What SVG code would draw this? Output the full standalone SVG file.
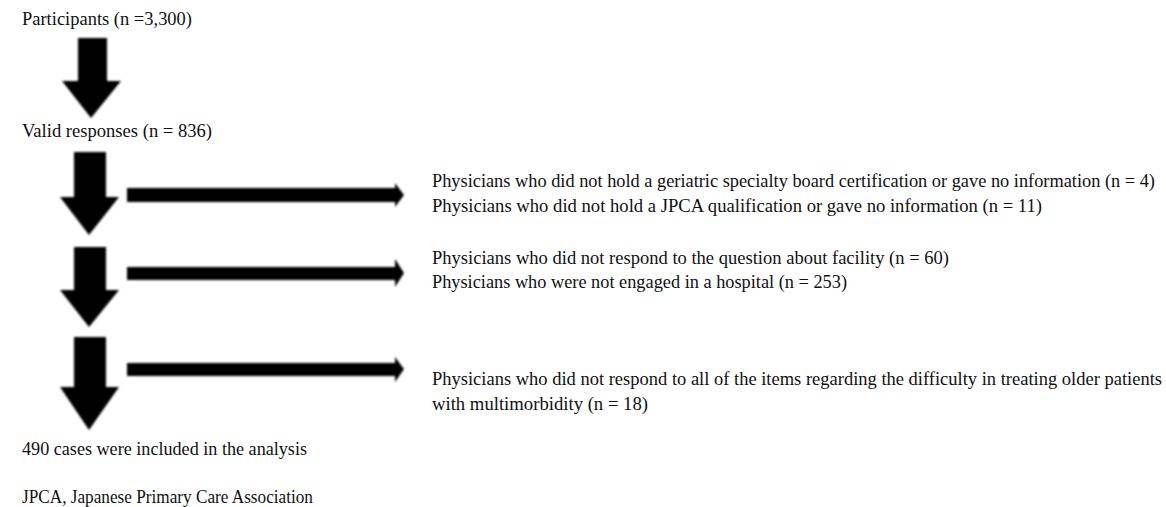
<svg xmlns="http://www.w3.org/2000/svg" width="1166" height="507" viewBox="0 0 1166 507">
<style>
  text { font-family: "Liberation Serif", "Times New Roman", serif; font-size: 19px; fill: #111; }
  .arrow { fill: #000; filter: url(#soft); }
</style>
<defs>
  <filter id="soft" x="-10%" y="-10%" width="120%" height="120%">
    <feGaussianBlur stdDeviation="0.9"/>
  </filter>
</defs>
<rect width="1166" height="507" fill="#fff"/>
<g id="connectors">
  <path class="arrow" d="M78,38 H107 V81 H121 L91,118 L62,81 H78 Z"/>
  <path class="arrow" d="M74,152 H106 V197 H119 L89,235 L60,197 H74 Z"/>
  <path class="arrow" d="M74,247 H106 V290 H119 L89,327 L60,290 H74 Z"/>
  <path class="arrow" d="M74,337 H106 V387 H119 L89,430 L60,387 H74 Z"/>
  <path class="arrow" d="M127,188 H395 V183 L404,195 L395,207 V202 H127 Z"/>
  <path class="arrow" d="M127,267 H395 V259 L404,273 L395,287 V280 H127 Z"/>
  <path class="arrow" d="M127,363 H395 V357 L404,369 L395,382 V376 H127 Z"/>
</g>
<g id="participants"><text transform="scale(0.9,1)" x="24.44" y="25" textLength="188.9" lengthAdjust="spacingAndGlyphs">Participants (n =3,300)</text></g>
<g id="valid"><text transform="scale(0.9,1)" x="24.44" y="137" textLength="211.1" lengthAdjust="spacingAndGlyphs">Valid responses (n = 836)</text></g>
<g id="excl1">
  <text transform="scale(0.9,1)" x="480" y="187" textLength="803.3" lengthAdjust="spacingAndGlyphs">Physicians who did not hold a geriatric specialty board certification or gave no information (n = 4)</text>
  <text transform="scale(0.9,1)" x="480" y="212" textLength="677.8" lengthAdjust="spacingAndGlyphs">Physicians who did not hold a JPCA qualification or gave no information (n = 11)</text>
</g>
<g id="excl2">
  <text transform="scale(0.9,1)" x="480" y="264" textLength="574.4" lengthAdjust="spacingAndGlyphs">Physicians who did not respond to the question about facility (n = 60)</text>
  <text transform="scale(0.9,1)" x="480" y="288" textLength="461.1" lengthAdjust="spacingAndGlyphs">Physicians who were not engaged in a hospital (n = 253)</text>
</g>
<g id="excl3">
  <text transform="scale(0.9,1)" x="480" y="385" textLength="811.1" lengthAdjust="spacingAndGlyphs">Physicians who did not respond to all of the items regarding the difficulty in treating older patients</text>
  <text transform="scale(0.9,1)" x="480" y="410" textLength="240" lengthAdjust="spacingAndGlyphs">with multimorbidity (n = 18)</text>
</g>
<g id="included"><text transform="scale(0.9,1)" x="24.44" y="455" textLength="316.7" lengthAdjust="spacingAndGlyphs">490 cases were included in the analysis</text></g>
<g id="footnote"><text transform="scale(0.9,1)" x="24.44" y="503" textLength="323.3" lengthAdjust="spacingAndGlyphs">JPCA, Japanese Primary Care Association</text></g>
</svg>
